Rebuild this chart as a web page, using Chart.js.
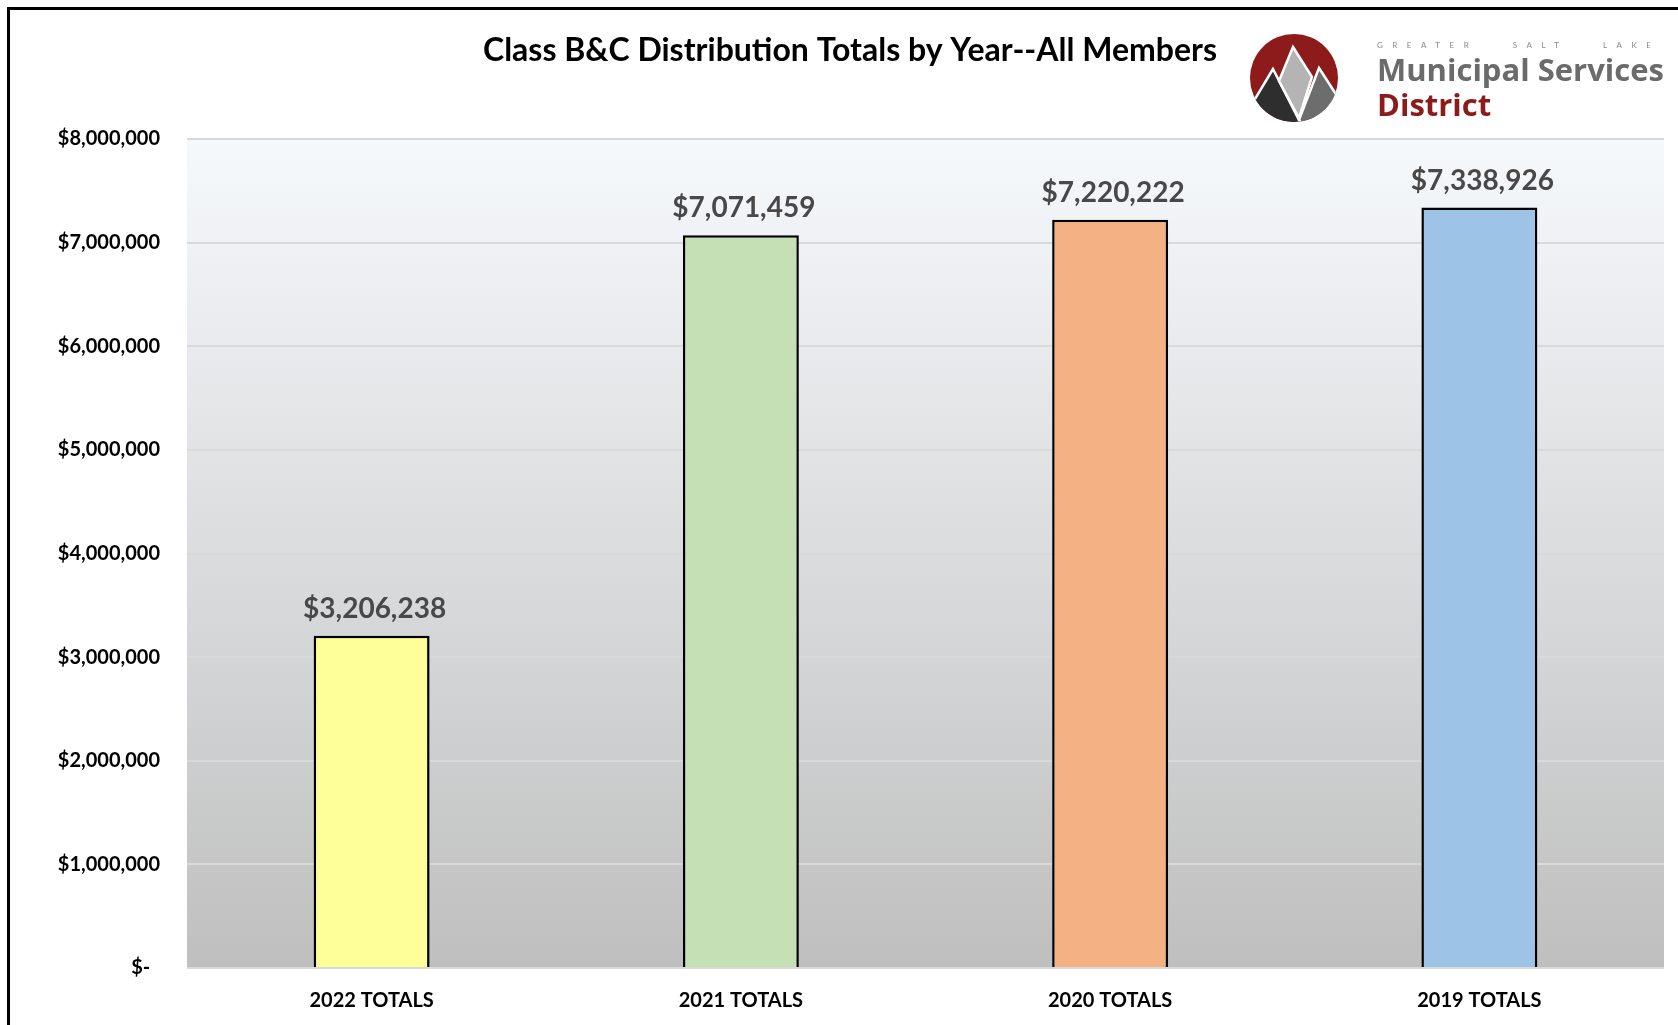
<!DOCTYPE html>
<html>
<head>
<meta charset="utf-8">
<script src="https://cdn.jsdelivr.net/npm/chart.js@4.4.0/dist/chart.umd.min.js"></script>
<style>
  body { margin: 0; background: #fff; overflow: hidden; }
  #wrap { position: relative; width: 1678px; height: 1025px; overflow: hidden; }
  #frame { position: absolute; left: 7px; top: 7px; width: 1720px; height: 1060px;
           border-left: 3px solid #000; border-top: 3px solid #000; pointer-events: none; }
  #logo { position: absolute; left: 1250px; top: 34px; width: 88px; height: 88px; }
  .brand { position: absolute; left: 1377px; font-family: "Open Sans", sans-serif; font-weight: bold; white-space: pre; }
  #brand-top { top: 40px; font-size: 8px; letter-spacing: 9.5px; color: #8a8a8a; font-weight: normal; font-family: Lato, sans-serif; }
  #brand-mid { top: 49px; font-size: 31px; line-height: 40px; color: #6b6b6b; }
  #brand-low { top: 84px; font-size: 31px; line-height: 40px; color: #8c1c1c; }
</style>
</head>
<body>
<div id="wrap">
  <canvas id="chart" width="1678" height="1025"></canvas>
  <div id="frame"></div>
  <svg id="logo" viewBox="0 0 88 88">
    <defs><clipPath id="disc"><circle cx="44" cy="44" r="44"/></clipPath></defs>
    <g clip-path="url(#disc)" stroke="#fff" stroke-width="2.5" stroke-linejoin="miter">
      <rect x="0" y="0" width="88" height="88" fill="#8e1b1b" stroke="none"/>
      <polygon points="69,34 100,82 100,100 40,100 49,86" fill="#6d6d6d"/>
      <polygon points="23,35 -10,90 -10,100 60,100 49,86" fill="#2e2e2e"/>
      <polygon points="43,13 62,43 49,84 29,47" fill="#b4b4b4"/>
    </g>
  </svg>
  <div class="brand" id="brand-top">GREATER   SALT   LAKE</div>
  <div class="brand" id="brand-mid">Municipal Services</div>
  <div class="brand" id="brand-low">District</div>
</div>
<script>
// Data
const categories = ['2022 TOTALS', '2021 TOTALS', '2020 TOTALS', '2019 TOTALS'];
const totals = [3206238, 7071459, 7220222, 7338926];
const barColors = ['#ffff99', '#c5e0b4', '#f4b183', '#9dc3e6'];
const yTicks = [0, 1000000, 2000000, 3000000, 4000000, 5000000, 6000000, 7000000, 8000000];
const chartTitle = 'Class B&C Distribution Totals by Year--All Members';

function money(v) {
    if (v === 0) return '$-  ';
    return '$' + v.toLocaleString('en-US');
}

// gradient behind the plot
const plotBackground = {
    id: 'plotBackground',
    beforeDraw(chart) {
        const a = chart.chartArea;
        const ctx = chart.ctx;
        const g = ctx.createLinearGradient(0, a.top, 0, a.bottom);
        g.addColorStop(0, '#f6f9fc');
        g.addColorStop(1, '#bfbfbf');
        ctx.save();
        ctx.fillStyle = g;
        ctx.fillRect(a.left, a.top, a.right - a.left, a.bottom - a.top);
        ctx.restore();
    }
};

// title, drawn where the original sits (left of the logo)
const titleText = {
    id: 'titleText',
    afterDraw(chart) {
        const ctx = chart.ctx;
        ctx.save();
        ctx.font = 'bold 32px Lato, sans-serif';
        ctx.fillStyle = '#000';
        ctx.textAlign = 'center';
        ctx.textBaseline = 'middle';
        ctx.fillText(chartTitle, 850, 51);
        ctx.restore();
    }
};

// value labels above bars
const valueLabels = {
    id: 'valueLabels',
    afterDatasetsDraw(chart) {
        const ctx = chart.ctx;
        const meta = chart.getDatasetMeta(0);
        ctx.save();
        ctx.font = 'bold 28px Lato, sans-serif';
        ctx.fillStyle = '#484848';
        ctx.textAlign = 'center';
        ctx.textBaseline = 'middle';
        meta.data.forEach(function(bar, i) {
            ctx.fillText(money(totals[i]), bar.x + 3, bar.y - 27);
        });
        ctx.restore();
    }
};

new Chart(document.getElementById('chart'), {
    type: 'bar',
    data: {
        labels: categories,
        datasets: [{
            data: totals,
            backgroundColor: barColors,
            borderColor: '#000',
            borderWidth: 2.5,
            barPercentage: 0.314,
            categoryPercentage: 1
        }]
    },
    options: {
        responsive: false,
        animation: false,
        layout: { padding: { top: 139, right: 14, left: 0, bottom: 0 } },
        plugins: {
            legend: { display: false },
            tooltip: { enabled: false },
            title: { display: false }
        },
        scales: {
            x: {
                grid: { display: false },
                border: { display: false },
                ticks: {
                    color: '#000',
                    padding: 13,
                    font: { family: 'Lato', weight: 'bold', size: 20 }
                },
                afterFit: function(scale) { scale.height = 57; }
            },
            y: {
                min: 0,
                max: 8000000,
                afterBuildTicks: function(scale) {
                    scale.ticks = yTicks.map(function(v) { return { value: v }; });
                },
                grid: { color: '#d9d9d9', lineWidth: 2, drawTicks: false },
                border: { display: false },
                ticks: {
                    color: '#000',
                    padding: 27,
                    font: { family: 'Lato', weight: 'bold', size: 20 },
                    callback: function(v) { return money(v); }
                },
                afterFit: function(scale) { scale.width = 187; }
            }
        }
    },
    plugins: [plotBackground, valueLabels, titleText]
});
</script>
</body>
</html>
